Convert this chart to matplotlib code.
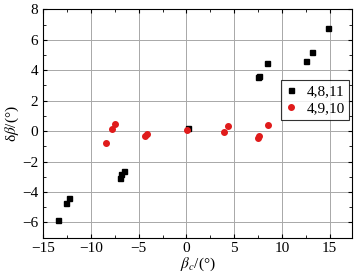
import matplotlib
matplotlib.use("Agg")
import matplotlib.pyplot as plt
from matplotlib.ticker import MultipleLocator

plt.rcParams['font.family'] = ['Liberation Serif', 'DejaVu Serif']
plt.rcParams['mathtext.fontset'] = 'stix'

# Series 4,8,11 (black squares)
x_a = [-13.5, -12.6, -12.3, -7.0, -6.85, -6.55, 0.13, 7.48, 7.62, 8.47, 12.52, 13.19, 14.87]
y_a = [-5.85, -4.7, -4.4, -3.05, -2.85, -2.65, 0.2, 3.54, 3.62, 4.46, 4.6, 5.21, 6.8]
# Series 4,9,10 (red circles)
x_b = [-8.4, -7.8, -7.5, -4.32, -4.1, 0.06, 3.91, 4.37, 7.48, 7.66, 8.53]
y_b = [-0.75, 0.11, 0.44, -0.33, -0.17, 0.05, -0.09, 0.33, -0.46, -0.35, 0.38]

labels = ["4,8,11", "4,9,10"]
xticks = [-15, -10, -5, 0, 5, 10, 15]
yticks = [-6, -4, -2, 0, 2, 4, 6, 8]

fig = plt.figure(figsize=(3.6, 2.76), dpi=100)
ax = fig.add_axes([0.120, 0.139, 0.859, 0.827])

ax.grid(True, which='major', color='#a8a8a8', linewidth=0.7)
ax.set_axisbelow(True)

ax.plot(x_a, y_a, linestyle='none', marker='s', color='black', markersize=3.6, label=labels[0])
ax.plot(x_b, y_b, linestyle='none', marker='o', color='#e01b1b', markersize=4.0, label=labels[1])

ax.set_xlim(-15, 17.4)
ax.set_ylim(-7, 8)
ax.set_xticks(xticks)
ax.set_yticks(yticks)
ax.xaxis.set_minor_locator(MultipleLocator(2.5))
ax.yaxis.set_minor_locator(MultipleLocator(1))
ax.tick_params(which='both', direction='in', top=True, right=True, labelsize=11)
ax.tick_params(which='major', length=3)
ax.tick_params(which='minor', length=2)
for s in ax.spines.values():
    s.set_linewidth(0.8)

ax.set_xlabel(r'$\beta_c$/(°)', fontsize=11, labelpad=0)
ax.set_ylabel(r'δ$\beta$/(°)', fontsize=11, labelpad=1)

leg = ax.legend(loc='upper right', bbox_to_anchor=(0.99, 0.69), fontsize=11,
                frameon=True, fancybox=False, edgecolor='black', handlelength=0.8,
                handletextpad=0.6, borderpad=0.3, labelspacing=0.2, borderaxespad=0)
leg.get_frame().set_linewidth(0.8)

fig.savefig("out.png", dpi=100)
